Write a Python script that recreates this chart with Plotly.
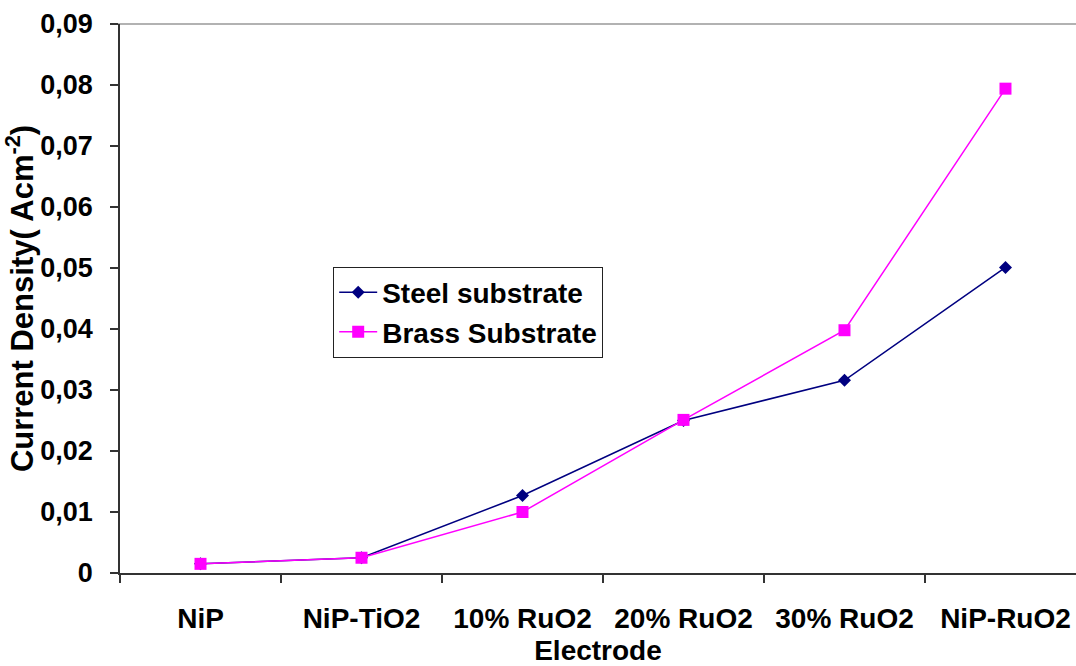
import plotly.graph_objects as go

categories = ["NiP", "NiP-TiO2", "10% RuO2", "20% RuO2", "30% RuO2", "NiP-RuO2"]
steel = [0.0015, 0.0025, 0.0127, 0.0250, 0.0316, 0.0501]
brass = [0.0015, 0.0025, 0.0100, 0.0251, 0.0398, 0.0794]
y_tickvals = [0, 0.01, 0.02, 0.03, 0.04, 0.05, 0.06, 0.07, 0.08, 0.09]
y_ticktext = ["0", "0,01", "0,02", "0,03", "0,04", "0,05", "0,06", "0,07", "0,08", "0,09"]

FONT = "Liberation Sans, Arial, sans-serif"

fig = go.Figure()
fig.add_trace(go.Scatter(
    x=categories, y=steel, name="<b>Steel substrate</b>", mode="lines+markers",
    line=dict(color="#000080", width=1.5),
    marker=dict(symbol="diamond", size=10, color="#000080"),
))
fig.add_trace(go.Scatter(
    x=categories, y=brass, name="<b>Brass Substrate</b>", mode="lines+markers",
    line=dict(color="#FF00FF", width=1.5),
    marker=dict(symbol="square", size=12, color="#FF00FF"),
))

fig.update_layout(
    width=1076, height=666,
    margin=dict(l=120, r=0, t=24, b=93, autoexpand=False),
    paper_bgcolor="white", plot_bgcolor="white",
    font=dict(family=FONT, size=28, color="black"),
    showlegend=True,
    legend=dict(
        x=0.223, y=0.558, xanchor="left", yanchor="top",
        bgcolor="white", bordercolor="#222222", borderwidth=1,
        font=dict(family=FONT, size=28, color="black"),
        itemwidth=38, tracegroupgap=0,
    ),
    xaxis=dict(
        type="category", range=[-0.5, 5.438],
        showgrid=False, zeroline=False,
        showline=True, linecolor="#333333", linewidth=1.5,
        ticks="outside", ticklen=8, tickcolor="#333333", tickwidth=1.5,
        tickson="boundaries",
        tickfont=dict(family=FONT, size=28, color="black", weight="bold"),
        ticklabelstandoff=20,
        title=dict(text="<b>Electrode</b>", font=dict(family=FONT, size=28), standoff=8),
    ),
    yaxis=dict(
        range=[0, 0.09],
        tickvals=y_tickvals, ticktext=y_ticktext,
        showgrid=False, zeroline=False,
        showline=True, linecolor="#333333", linewidth=1.5,
        ticks="outside", ticklen=8, tickcolor="#333333", tickwidth=1.5,
        tickfont=dict(family=FONT, size=27, color="black", weight="bold"),
        ticklabelstandoff=12,
        title=dict(text="<b>Current Density( Acm<sup>-2</sup>)</b>",
                   font=dict(family=FONT, size=31), standoff=0),
    ),
    shapes=[dict(type="line", xref="paper", yref="paper", x0=-0.01, x1=1, y0=1, y1=1,
                 line=dict(color="#999999", width=1.5), layer="below")],
)

fig.write_html("out.html")
